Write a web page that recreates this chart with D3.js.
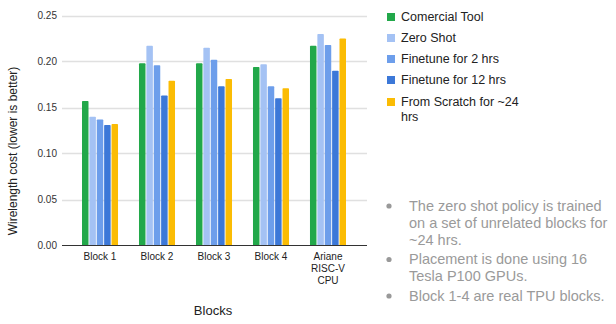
<!DOCTYPE html>
<html><head><meta charset="utf-8">
<script src="https://cdn.jsdelivr.net/npm/d3@7"></script>
<style>
html,body{margin:0;padding:0;background:#fff;}
svg{display:block;font-family:"Liberation Sans",Arial,sans-serif;}
</style></head>
<body>
<script>
const categories = [["Block 1"],["Block 2"],["Block 3"],["Block 4"],["Ariane","RISC-V","CPU"]];
const seriesNames = ["Comercial Tool","Zero Shot","Finetune for 2 hrs","Finetune for 12 hrs","From Scratch for ~24 hrs"];
const legendLines = [["Comercial Tool"],["Zero Shot"],["Finetune for 2 hrs"],["Finetune for 12 hrs"],["From Scratch for ~24","hrs"]];
const comercialTool = [0.157,0.198,0.198,0.194,0.217];
const zeroShot      = [0.140,0.217,0.215,0.197,0.230];
const finetune2     = [0.137,0.196,0.202,0.173,0.218];
const finetune12    = [0.131,0.163,0.173,0.160,0.190];
const fromScratch   = [0.132,0.179,0.181,0.171,0.225];
const yTicks = [0,0.05,0.10,0.15,0.20,0.25];
const notes = [["The zero shot policy is trained","on a set of unrelated blocks for","~24 hrs."],["Placement is done using 16","Tesla P100 GPUs."],["Block 1-4 are real TPU blocks."]];
const colors = ["#22a84a","#a4c2f4","#6d9eeb","#3c78d8","#fbbc04"];

const series = [comercialTool,zeroShot,finetune2,finetune12,fromScratch];
const W=616,H=324;
const svg=d3.select("body").append("svg").attr("width",W).attr("height",H);

const plotL=62, plotR=367;
const y=d3.scaleLinear().domain([0,0.25]).range([245.5,15.5]);
const x=d3.scaleBand().domain(categories.map((c,i)=>i)).range([82,346]).paddingInner(0.368).paddingOuter(0);
const xs=d3.scaleBand().domain(seriesNames).range([0,x.bandwidth()]).paddingInner(0.12);

// gridlines
svg.append("g").selectAll("line").data(yTicks.filter(t=>t>0)).join("line")
 .attr("x1",plotL).attr("x2",plotR).attr("y1",d=>Math.round(y(d))+0.5).attr("y2",d=>Math.round(y(d))+0.5)
 .attr("stroke","#e0e0e0").attr("stroke-width",1.5);

// y tick labels
svg.append("g").selectAll("text").data(yTicks).join("text")
 .attr("x",57).attr("y",d=>y(d)).attr("dy","0.35em").attr("text-anchor","end")
 .attr("font-size",10).attr("fill","#333").text(d=>d3.format(".2f")(d));

// bars
const g=svg.append("g");
series.forEach((vals,si)=>{
  g.selectAll(null).data(vals).join("rect")
   .attr("x",(d,i)=>x(i)+xs(seriesNames[si]))
   .attr("width",xs.bandwidth())
   .attr("y",d=>y(d)).attr("height",d=>y(0)-y(d))
   .attr("fill",colors[si]).attr("rx",0.8);
});

// baseline
svg.append("line").attr("x1",plotL).attr("x2",plotR).attr("y1",y(0)).attr("y2",y(0)).attr("stroke","#333").attr("stroke-width",1);

// x tick labels
const xl=svg.append("g");
categories.forEach((lines,i)=>{
  const t=xl.append("text").attr("x",x(i)+x.bandwidth()/2).attr("y",260).attr("text-anchor","middle").attr("font-size",10).attr("fill","#222");
  lines.forEach((l,j)=>t.append("tspan").attr("x",x(i)+x.bandwidth()/2).attr("dy",j?12:0).text(l));
});

// axis titles
svg.append("text").attr("x",213).attr("y",315).attr("text-anchor","middle").attr("font-size",13).attr("fill","#222").text("Blocks");
svg.append("text").attr("transform","translate(17,151) rotate(-90)").attr("text-anchor","middle").attr("font-size",12).attr("fill","#222").text("Wirelength cost (lower is better)");

// legend
const lg=svg.append("g");
const legY=[17,38,59,80,102];
legendLines.forEach((lines,i)=>{
  lg.append("rect").attr("x",387).attr("y",legY[i]-4).attr("width",8).attr("height",8).attr("fill",colors[i]);
  lines.forEach((l,j)=>lg.append("text").attr("x",401).attr("y",legY[i]+j*15).attr("dy","0.35em").attr("font-size",12.5).attr("fill","#222").text(l));
});

// notes
const ng=svg.append("g");
let ly=205.5;
notes.forEach(lines=>{
  ng.append("circle").attr("cx",389).attr("cy",ly+0.5).attr("r",2.6).attr("fill","#999");
  lines.forEach(l=>{
    ng.append("text").attr("x",409).attr("y",ly).attr("dy","0.35em").attr("font-size",14.5).attr("fill","#9a9a9a").text(l);
    ly+=17;
  });
  ly+=2.5;
});
</script>
</body></html>
